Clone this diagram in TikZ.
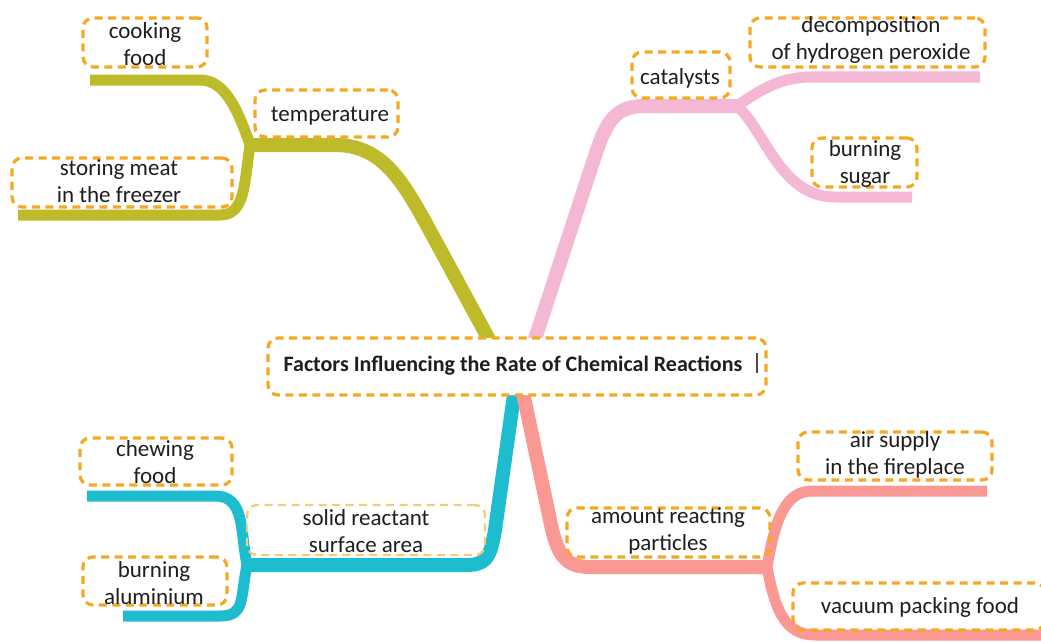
\documentclass[tikz,border=0pt]{standalone}
\usepackage{fontspec}
\setmainfont{Carlito}
\definecolor{limbOlive}{RGB}{190,187,42}
\definecolor{limbPink}{RGB}{245,184,212}
\definecolor{limbCyan}{RGB}{30,188,207}
\definecolor{limbSalmon}{RGB}{250,152,148}
\definecolor{tagOrange}{RGB}{245,168,35}
\definecolor{tagPale}{RGB}{245,203,128}
\definecolor{ink}{RGB}{30,30,30}
\tikzset{
  tag/.style={draw=tagOrange, line width=3.2pt, dash pattern=on 8pt off 5.5pt,
    rounded corners=10pt, inner sep=0pt},
  lbl/.style={font=\fontsize{23}{27}\selectfont, text=ink, align=center, inner sep=0pt},
  limb/.style={line width=14pt},
  twig/.style={line width=11pt},
}
\begin{document}
\begin{tikzpicture}[x=1pt,y=-1pt]
\useasboundingbox (0,0) rectangle (1041,642);

% hub and branch points
\coordinate (hubT) at (492,345);
\coordinate (hubP) at (533,345);
\coordinate (hubC) at (515,388);
\coordinate (hubS) at (522,388);
\coordinate (jT) at (250,145);
\coordinate (jP) at (737,106);
\coordinate (jC) at (247,565);
\coordinate (jS) at (767,567);
\coordinate (eCook) at (90,80);
\coordinate (eStore) at (18,215);
\coordinate (eDecomp) at (980,77);
\coordinate (eSugar) at (912,197);
\coordinate (eChew) at (87,496);
\coordinate (eAlum) at (123,616);
\coordinate (eAir) at (987,491);
\coordinate (eVac) at (1045,635);

% temperature branch
\draw[limb, limbOlive] (jT) -- (335,145) .. controls (385,145) and (405,185) .. (435,240) -- (hubT);
\draw[twig, limbOlive] (eCook) -- (200,80) .. controls (225,80) and (238,110) .. (jT);
\draw[twig, limbOlive] (jT) .. controls (244,185) and (245,215) .. (220,215) -- (eStore);

% catalysts branch
\draw[limb, limbPink] (hubP) -- (592,165) .. controls (605,125) and (612,106) .. (645,106) -- (jP);
\draw[twig, limbPink] (jP) .. controls (760,90) and (780,77) .. (812,77) -- (eDecomp);
\draw[twig, limbPink] (jP) .. controls (765,130) and (780,197) .. (835,197) -- (eSugar);

% surface area branch
\draw[limb, limbCyan] (hubC) -- (495,530) .. controls (490,560) and (485,565) .. (465,565) -- (jC);
\draw[twig, limbCyan] (jC) .. controls (240,530) and (245,496) .. (215,496) -- (eChew);
\draw[twig, limbCyan] (jC) .. controls (240,600) and (245,616) .. (220,616) -- (eAlum);

% reacting particles branch
\draw[limb, limbSalmon] (hubS) -- (550,520) .. controls (557,555) and (565,567) .. (590,567) -- (jS);
\draw[twig, limbSalmon] (jS) .. controls (775,520) and (785,491) .. (812,491) -- (eAir);
\draw[twig, limbSalmon] (jS) .. controls (775,610) and (785,635) .. (815,635) -- (eVac);

% central topic
\node[tag, fill=white, minimum width=498pt, minimum height=57pt] (hub) at (517,366.5) {};
\node[lbl, font=\fontsize{22}{26}\selectfont\bfseries] (hubtext) at (513,366) {Factors Influencing the Rate of Chemical Reactions};
\draw[ink!80, line width=1.2pt] (757,353) -- (757,373);

% topic boxes
\node[tag, minimum width=124pt, minimum height=49pt] (cookbox) at (145,42.5) {};
\node[lbl] (cook) at (145,44) {cooking\\food};
\node[tag, minimum width=143pt, minimum height=47pt] (tempbox) at (326.5,113.5) {};
\node[lbl] (temp) at (330,116) {temperature};
\node[tag, minimum width=220pt, minimum height=49pt] (storebox) at (122,182.5) {};
\node[lbl] (store) at (119,181) {storing meat\\in the freezer};

\node[tag, minimum width=98pt, minimum height=46pt] (catbox) at (681,75) {};
\node[lbl] (cat) at (680,78) {catalysts};
\node[tag, minimum width=235pt, minimum height=49pt] (decompbox) at (867.5,42.5) {};
\node[lbl] (decomp) at (871,40) {decomposition\\of hydrogen peroxide};
\node[tag, minimum width=105pt, minimum height=49pt] (sugarbox) at (864.5,162.5) {};
\node[lbl] (sugar) at (865,164) {burning\\sugar};

\node[tag, minimum width=152pt, minimum height=47pt] (chewbox) at (156,461.5) {};
\node[lbl] (chew) at (155,462) {chewing\\food};
\node[tag, draw=tagPale, line width=2.4pt, minimum width=238pt, minimum height=50pt] (solidbox) at (366,530) {};
\node[lbl] (solid) at (366,531) {solid reactant\\surface area};
\node[tag, minimum width=144pt, minimum height=48pt] (alumbox) at (155,581) {};
\node[lbl] (alum) at (154,583) {burning\\aluminium};

\node[tag, minimum width=194pt, minimum height=48pt] (airbox) at (895,456) {};
\node[lbl] (air) at (895,455) {air supply\\in the fireplace};
\node[tag, minimum width=203pt, minimum height=49pt] (amountbox) at (668.5,532.5) {};
\node[lbl] (amount) at (668,531) {amount reacting\\particles};
\node[tag, minimum width=252pt, minimum height=47pt] (vacbox) at (919,606.5) {};
\node[lbl] (vac) at (920,607) {vacuum packing food};
\end{tikzpicture}
\end{document}
